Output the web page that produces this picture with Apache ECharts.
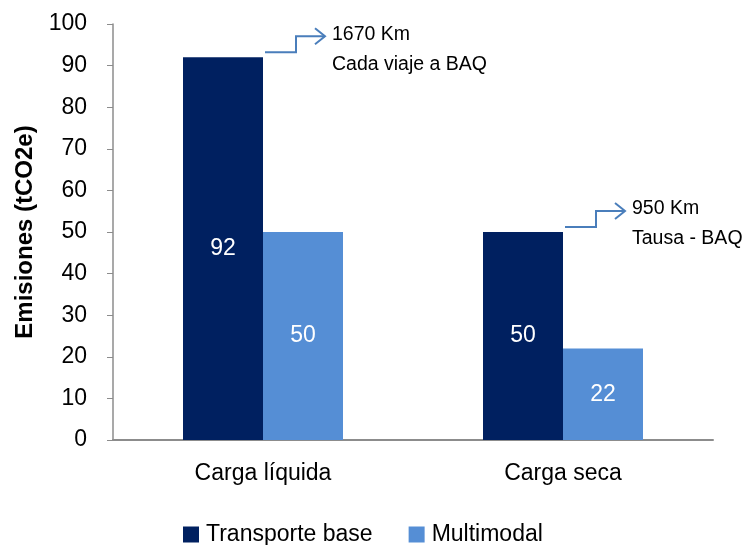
<!DOCTYPE html>
<html>
<head>
<meta charset="utf-8">
<script src="https://cdn.jsdelivr.net/npm/echarts@6/dist/echarts.min.js"></script>
<style>
html,body{margin:0;padding:0;background:#fff;}
#main{width:751px;height:545px;}
</style>
</head>
<body>
<div id="main"></div>
<script>
const categories = ['Carga líquida', 'Carga seca'];
const seriesNames = ['Transporte base', 'Multimodal'];
const transporteBase = [92, 50];
const multimodal = [50, 22];
const yTicks = [0, 10, 20, 30, 40, 50, 60, 70, 80, 90, 100];
const annotationCats = ['Carga líquida', 'Carga seca'];
const annotationValues = [92, 50];
const annotationLine1 = ['1670 Km', '950 Km'];
const annotationLine2 = ['Cada viaje a BAQ', 'Tausa - BAQ'];

const FONT = '"Liberation Sans", Arial, sans-serif';
const chart = echarts.init(document.getElementById('main'), null, {renderer: 'canvas'});

const labelStyle = {
  show: true, position: 'inside', color: '#ffffff',
  fontSize: 23, fontFamily: FONT
};

chart.setOption({
  animation: false,
  grid: {left: 113, right: 38, top: 24, bottom: 105, containLabel: false, outerBoundsMode: 'none'},
  legend: {
    top: 518, left: 178,
    itemWidth: 16, itemHeight: 16, itemGap: 36,
    icon: 'rect',
    textStyle: {fontSize: 23, fontFamily: FONT, color: '#000', padding: [0, 0, 0, 2]},
    data: seriesNames
  },
  xAxis: {
    type: 'category', data: categories,
    axisLine: {lineStyle: {color: '#8c8c8c', width: 2}},
    axisTick: {show: false},
    axisLabel: {fontSize: 23, fontFamily: FONT, color: '#000', margin: 22}
  },
  yAxis: {
    type: 'value', min: yTicks[0], max: yTicks[yTicks.length - 1], interval: 10,
    name: 'Emisiones (tCO2e)', nameLocation: 'middle', nameGap: 76,
    nameTextStyle: {fontSize: 24, fontWeight: 'bold', fontFamily: FONT, color: '#000'},
    axisLine: {show: true, lineStyle: {color: '#8c8c8c', width: 1.5}},
    axisTick: {show: true, length: 6, lineStyle: {color: '#8c8c8c'}},
    axisLabel: {fontSize: 23, fontFamily: FONT, color: '#000', margin: 26},
    splitLine: {show: false}
  },
  series: [
    {name: seriesNames[0], type: 'bar', data: transporteBase, barWidth: 80, barGap: '0%',
     itemStyle: {color: '#002060'}, label: labelStyle},
    {name: seriesNames[1], type: 'bar', data: multimodal, barWidth: 80,
     itemStyle: {color: '#558ed5'}, label: labelStyle}
  ]
});

function drawAnnotations() {
  const els = [];
  const arrowColor = '#4a7ebb';
  for (let i = 0; i < annotationCats.length; i++) {
    const p = chart.convertToPixel({xAxisIndex: 0, yAxisIndex: 0}, [annotationCats[i], annotationValues[i]]);
    const x0 = p[0] + 2, y0 = p[1] - 5;
    const x1 = x0 + 31, y1 = y0 - 16;
    const xt = x1 + 29;
    els.push({
      type: 'polyline', silent: true,
      shape: {points: [[x0, y0], [x1, y0], [x1, y1], [xt, y1]]},
      style: {stroke: arrowColor, lineWidth: 2, fill: null}
    });
    els.push({
      type: 'polyline', silent: true,
      shape: {points: [[xt - 10, y1 - 8], [xt, y1], [xt - 10, y1 + 8]]},
      style: {stroke: arrowColor, lineWidth: 2, fill: null}
    });
    els.push({
      type: 'text', silent: true, x: xt + 7, y: y1 - 2,
      style: {text: annotationLine1[i], fontSize: 19.5, fontFamily: FONT, fill: '#000',
              verticalAlign: 'middle', align: 'left'}
    });
    els.push({
      type: 'text', silent: true, x: xt + 7, y: y1 + 28,
      style: {text: annotationLine2[i], fontSize: 19.5, fontFamily: FONT, fill: '#000',
              verticalAlign: 'middle', align: 'left'}
    });
  }
  chart.setOption({graphic: {elements: els}});
}
drawAnnotations();
</script>
</body>
</html>
